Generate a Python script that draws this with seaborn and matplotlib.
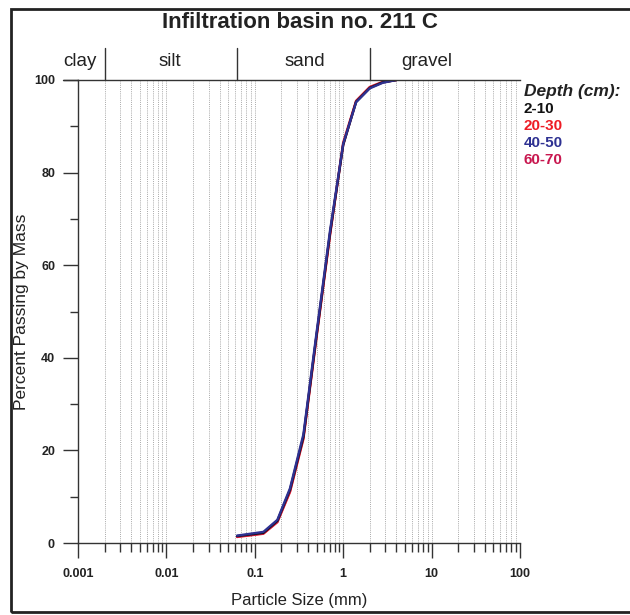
import numpy as np
import pandas as pd
import matplotlib
matplotlib.use("Agg")
import matplotlib.pyplot as plt
import seaborn as sns
from matplotlib.patches import Rectangle
from matplotlib.lines import Line2D
from matplotlib.ticker import LogLocator, FixedLocator, NullFormatter, FixedFormatter

# ---- data ----
sizes_mm = [0.063, 0.125, 0.18, 0.25, 0.355, 0.5, 0.71, 1.0, 1.4, 2.0, 2.8, 4.0]
depth_labels = ["2-10", "20-30", "40-50", "60-70"]
pass_2_10 = [1.5, 2.2, 4.8, 11.5, 23.0, 45.0, 67.0, 86.0, 95.3, 98.3, 99.5, 100.0]
pass_20_30 = [1.3, 2.0, 4.5, 11.0, 22.5, 44.5, 66.5, 86.5, 95.5, 98.5, 99.6, 100.0]
pass_40_50 = [1.6, 2.4, 5.0, 11.8, 23.5, 45.5, 67.5, 86.2, 95.2, 98.2, 99.4, 100.0]
pass_60_70 = [1.4, 2.1, 4.6, 11.2, 22.8, 44.8, 66.8, 86.0, 95.4, 98.4, 99.5, 100.0]
series_colors = ["#111111", "#ee1c25", "#2e3192", "#c8174f"]
class_names = ["clay", "silt", "sand", "gravel"]
class_bounds = [0.002, 0.063, 2.0]
x_tick_labels = ["0.001", "0.01", "0.1", "1", "10", "100"]
y_tick_labels = ["0", "20", "40", "60", "80", "100"]

rows = []
for lab, vals in zip(depth_labels, [pass_2_10, pass_20_30, pass_40_50, pass_60_70]):
    for s, v in zip(sizes_mm, vals):
        rows.append({"size": s, "pct": v, "Depth": lab})
df = pd.DataFrame(rows)
palette = dict(zip(depth_labels, series_colors))
draw_order = ["20-30", "60-70", "2-10", "40-50"]

sns.set_theme(style="white")
plt.rcParams["font.family"] = ["Liberation Sans", "DejaVu Sans"]

W, H = 630, 615
PX = 72 / 100  # points per pixel
fig = plt.figure(figsize=(W / 100, H / 100), dpi=100)
fig.patch.set_facecolor("white")
ax = fig.add_axes([78 / W, 1 - 543 / H, 442 / W, 463 / H])

sns.lineplot(data=df, x="size", y="pct", hue="Depth", palette=palette,
             hue_order=draw_order, ax=ax, linewidth=1.7, legend=False, sort=False)

ax.set_xscale("log")
ax.set_xlim(0.001, 100)
ax.set_ylim(0, 100)

# ticks
ax.xaxis.set_major_locator(FixedLocator([0.001, 0.01, 0.1, 1, 10, 100]))
ax.xaxis.set_major_formatter(FixedFormatter(x_tick_labels))
ax.xaxis.set_minor_locator(LogLocator(base=10, subs=np.arange(2, 10)))
ax.xaxis.set_minor_formatter(NullFormatter())
ax.yaxis.set_major_locator(FixedLocator([0, 20, 40, 60, 80, 100]))
ax.yaxis.set_major_formatter(FixedFormatter(y_tick_labels))
ax.yaxis.set_minor_locator(FixedLocator([10, 30, 50, 70, 90]))
ax.tick_params(axis="both", which="major", direction="out", length=15 * PX, width=1.0,
               color="#333333", labelsize=9)
ax.tick_params(axis="x", which="minor", direction="out", length=9 * PX, width=1.0,
               color="#333333", bottom=True)
ax.tick_params(axis="y", which="minor", direction="out", length=8 * PX, width=1.0,
               color="#333333", left=True)
ax.tick_params(axis="x", which="major", bottom=True, pad=10 * PX)
ax.tick_params(axis="y", which="major", left=True, pad=8 * PX)
for t in ax.get_xticklabels() + ax.get_yticklabels():
    t.set_fontweight("bold")
    t.set_color("#222222")

# grid
ax.grid(False)
ax.grid(True, axis="x", which="both", color="#a8a8a8", linestyle=(0, (1, 1.2)), linewidth=0.7)

for side in ["left", "bottom", "top"]:
    ax.spines[side].set_visible(True)
    ax.spines[side].set_color("#333333")
    ax.spines[side].set_linewidth(1.0)
ax.spines["right"].set_visible(False)

# extend top line left (like a tick)
trans = ax.get_yaxis_transform()
ax.plot([-15 / 442, 0], [100, 100], transform=trans, color="#333333", lw=1.0, clip_on=False)

ax.set_xlabel("Particle Size (mm)", fontsize=12, color="#222222")
ax.set_ylabel("Percent Passing by Mass", fontsize=12.5, color="#222222")
ax.xaxis.set_label_coords(0.5, -(593 - 543) / 463)
ax.yaxis.set_label_coords(-(78 - 29) / 442, 0.5)

# soil class band
btrans = ax.get_xaxis_transform()
for b in class_bounds:
    ax.plot([b, b], [1.0, 1.0 + 32 / 463], transform=btrans, color="#333333", lw=1.0, clip_on=False)
class_x = [0.00106, 0.011, 0.37, 8.9]
for name, cx in zip(class_names, class_x):
    ax.text(cx, 1.0 + 18 / 463, name, transform=btrans, ha="center", va="center",
            fontsize=13.5, color="#222222")

fig.text(300 / W, 1 - 22 / H, "Infiltration basin no. 211 C", ha="center", va="center",
         fontsize=16, fontweight="bold", color="#222222")

# legend as colored text
handles = [Line2D([], [], color=c, lw=0) for c in series_colors]
leg = ax.legend(handles, depth_labels, loc="upper left",
                bbox_to_anchor=(1.0 + 4 / 442, 1.0 - 4 / 463),
                frameon=False, handlelength=0, handletextpad=0, labelspacing=0.19,
                title="Depth (cm):", alignment="left", borderaxespad=0, borderpad=0,
                prop={"weight": "bold", "size": 11},
                title_fontproperties={"weight": "bold", "style": "italic", "size": 12.5})
for txt, c in zip(leg.get_texts(), series_colors):
    txt.set_color(c)
leg.get_title().set_color("#222222")

# outer border
fig.add_artist(Rectangle((11 / W, 3 / H), 1.2, 1 - 12 / H, transform=fig.transFigure,
                         fill=False, edgecolor="#222222", linewidth=2.0))

fig.savefig("out.png", dpi=100)
